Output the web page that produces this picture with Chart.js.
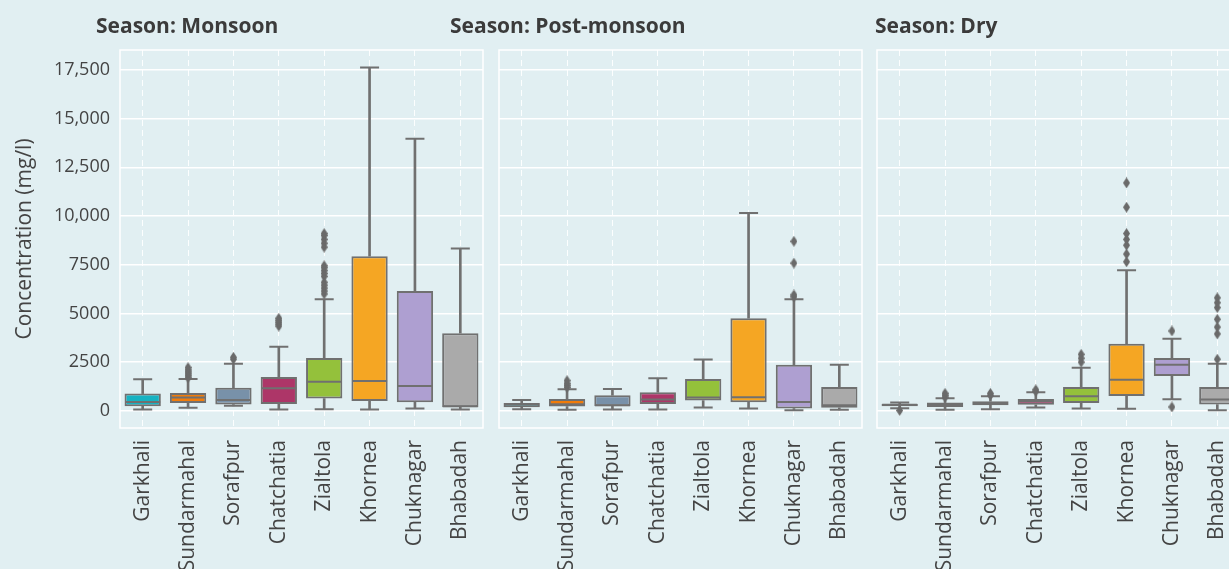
<!DOCTYPE html>
<html><head><meta charset="utf-8">
<script src="https://cdn.jsdelivr.net/npm/chart.js@4.4.0/dist/chart.umd.min.js"></script>
<style>
html,body{margin:0;padding:0;width:1229px;height:569px;overflow:hidden;background:#e1eff2;font-family:'Open Sans',sans-serif;}
.panel{position:absolute;top:0;height:569px;}
.ttl{position:absolute;top:11px;font-weight:700;font-size:21px;color:#3b3b3b;white-space:nowrap;}
</style></head><body>
<div class="panel" style="left:0;width:490px"><canvas id="c0" width="490" height="569"></canvas></div>
<div class="panel" style="left:490px;width:380px"><canvas id="c1" width="380" height="569"></canvas></div>
<div class="panel" style="left:870px;width:380px"><canvas id="c2" width="380" height="569"></canvas></div>
<div class="ttl" style="left:96px">Season: Monsoon</div>
<div class="ttl" style="left:450px">Season: Post-monsoon</div>
<div class="ttl" style="left:875px">Season: Dry</div>
<script>
const stations = ['Garkhali','Sundarmahal','Sorafpur','Chatchatia','Zialtola','Khornea','Chuknagar','Bhabadah'];
const stationColors = ['#16b2c2','#f17c0a','#7891a9','#ad3668','#94c13b','#f5a623','#ae9fd1','#aaaaaa'];
const yTickValues = [0,2500,5000,7500,10000,12500,15000,17500];
const yTitle = 'Concentration (mg/l)';

// Monsoon
const monsoonMin    = [66, 153, 256, 66, 82, 66, 118, 66];
const monsoonQ1     = [235, 409, 322, 358, 629, 511, 440, 184];
const monsoonMedian = [460, 680, 562, 1156, 1498, 1533, 1278, 230];
const monsoonQ3     = [885, 920, 1191, 1738, 2710, 7940, 6150, 3988];
const monsoonMax    = [1616, 1636, 2418, 3288, 5727, 17620, 13960, 8334];
const monsoonOutliers = [[], [1700,1800,1900,2000,2100,2220], [2650,2750], [4350,4450,4550,4650,4750], [6000,6150,6300,6450,6600,6900,7050,7200,7350,7450,8400,8600,8800,9000,9100], [], [], []];

// Post-monsoon
const postMin    = [82, 51, 66, 66, 169, 118, 31, 51];
const postQ1     = [184, 220, 235, 358, 527, 440, 118, 153];
const postMedian = [322, 338, 286, 578, 680, 695, 460, 286];
const postQ3     = [409, 613, 798, 951, 1636, 4755, 2367, 1227];
const postMax    = [562, 1105, 1125, 1667, 2638, 10155, 5727, 2367];
const postOutliers = [[], [1200,1300,1400,1550], [], [], [], [], [5850,5950,7580,8700], []];

// Dry
const dryMin    = [133, 51, 82, 169, 118, 102, 595, 31];
const dryQ1     = [235, 204, 286, 307, 409, 767, 1790, 322];
const dryMedian = [307, 322, 409, 491, 747, 1600, 2367, 578];
const dryQ3     = [358, 424, 491, 613, 1227, 3441, 2710, 1227];
const dryMax    = [424, 644, 747, 951, 2214, 7210, 3697, 2418];
const dryOutliers = [[20], [700,800,900], [800,900], [1000,1080], [2500,2700,2900], [7650,8050,8500,8800,9100,10450,11700], [200,4100], [2650,3950,4300,4700,5300,5550,5800]];

const GRAY = '#707070';
Chart.defaults.font.family = "'Open Sans', sans-serif";
Chart.defaults.color = '#444';

// thin diamond marker
const diamond = document.createElement('canvas');
diamond.width = 7; diamond.height = 11;
(function(){const c = diamond.getContext('2d'); c.fillStyle = '#6a6a6a'; c.beginPath();
 c.moveTo(3.5,0); c.lineTo(7,5.5); c.lineTo(3.5,11); c.lineTo(0,5.5); c.closePath(); c.fill();})();

const framePlugin = {
  id: 'frame',
  beforeDatasetsDraw(chart) {
    const {ctx, chartArea: a} = chart;
    ctx.save(); ctx.strokeStyle = '#ffffff'; ctx.lineWidth = 1.5;
    ctx.strokeRect(a.left, a.top, a.right - a.left, a.bottom - a.top);
    ctx.restore();
  }
};

function makeChart(id, mn, q1, med, q3, mx, outl, cfg) {
  const outPts = [];
  outl.forEach((arr, i) => arr.forEach(v => outPts.push({x: stations[i], y: v})));
  return new Chart(document.getElementById(id), {
    type: 'bar',
    data: {
      labels: stations,
      datasets: [
        {type:'bar', label:'upper whisker', data: q3.map((v,i)=>[v, mx[i]]), backgroundColor: GRAY, barThickness: 2, grouped: false, order: 6},
        {type:'bar', label:'lower whisker', data: mn.map((v,i)=>[v, q1[i]]), backgroundColor: GRAY, barThickness: 2, grouped: false, order: 6},
        {type:'bar', label:'box', data: q1.map((v,i)=>[v, q3[i]]), backgroundColor: stationColors, borderColor: GRAY, borderWidth: 2, borderSkipped: false, barPercentage: 0.8, categoryPercentage: 1, grouped: false, order: 5},
        {type:'line', label:'median', data: med, showLine: false, pointStyle: 'line', pointRadius: 17.5, pointBorderColor: GRAY, pointBorderWidth: 2, order: 4},
        {type:'line', label:'max cap', data: mx, showLine: false, pointStyle: 'line', pointRadius: 9.5, pointBorderColor: GRAY, pointBorderWidth: 2, order: 4},
        {type:'line', label:'min cap', data: mn, showLine: false, pointStyle: 'line', pointRadius: 9.5, pointBorderColor: GRAY, pointBorderWidth: 2, order: 4},
        {type:'line', label:'outliers', data: outPts, showLine: false, pointStyle: diamond, order: 3}
      ]
    },
    options: {
      responsive: false, animation: false,
      layout: {autoPadding: false, padding: {left: cfg.padLeft, right: cfg.padRight, top: 50, bottom: 0}},
      plugins: {legend: {display: false}, tooltip: {enabled: false}, title: {display: false}},
      scales: {
        x: {
          type: 'category', offset: true,
          grid: {display: true, offset: false, color: 'rgba(255,255,255,0.9)', lineWidth: 1, drawTicks: false},
          border: {display: false, dash: [6,4]},
          ticks: {maxRotation: 90, minRotation: 90, autoSkip: false, padding: 12, font: {size: 21}, color: '#444'},
          afterFit(s) { s.height = 141; s.paddingLeft = 0; s.paddingRight = 0; }
        },
        y: {
          type: 'linear', min: -880, max: 18520,
          grid: {color: '#ffffff', lineWidth: 1.5, drawTicks: false},
          border: {display: false},
          afterBuildTicks(s) { s.ticks = yTickValues.map(v => ({value: v})); },
          ticks: {display: cfg.showY, padding: 10, font: {size: 18}, color: '#444',
            callback: v => v >= 10000 ? v.toLocaleString('en-US') : String(v)},
          title: {display: cfg.showY, text: yTitle, font: {size: 21}, color: '#444', padding: {top: 12, bottom: 0}},
          afterFit(s) { s.width = cfg.yWidth; s.paddingTop = 0; s.paddingBottom = 0; }
        }
      }
    },
    plugins: [framePlugin]
  });
}

makeChart('c0', monsoonMin, monsoonQ1, monsoonMedian, monsoonQ3, monsoonMax, monsoonOutliers, {padLeft: 0, padRight: 7, yWidth: 120, showY: true});
makeChart('c1', postMin, postQ1, postMedian, postQ3, postMax, postOutliers, {padLeft: 0, padRight: 8, yWidth: 9, showY: false});
makeChart('c2', dryMin, dryQ1, dryMedian, dryQ3, dryMax, dryOutliers, {padLeft: 0, padRight: 10, yWidth: 7, showY: false});
</script>
</body></html>
